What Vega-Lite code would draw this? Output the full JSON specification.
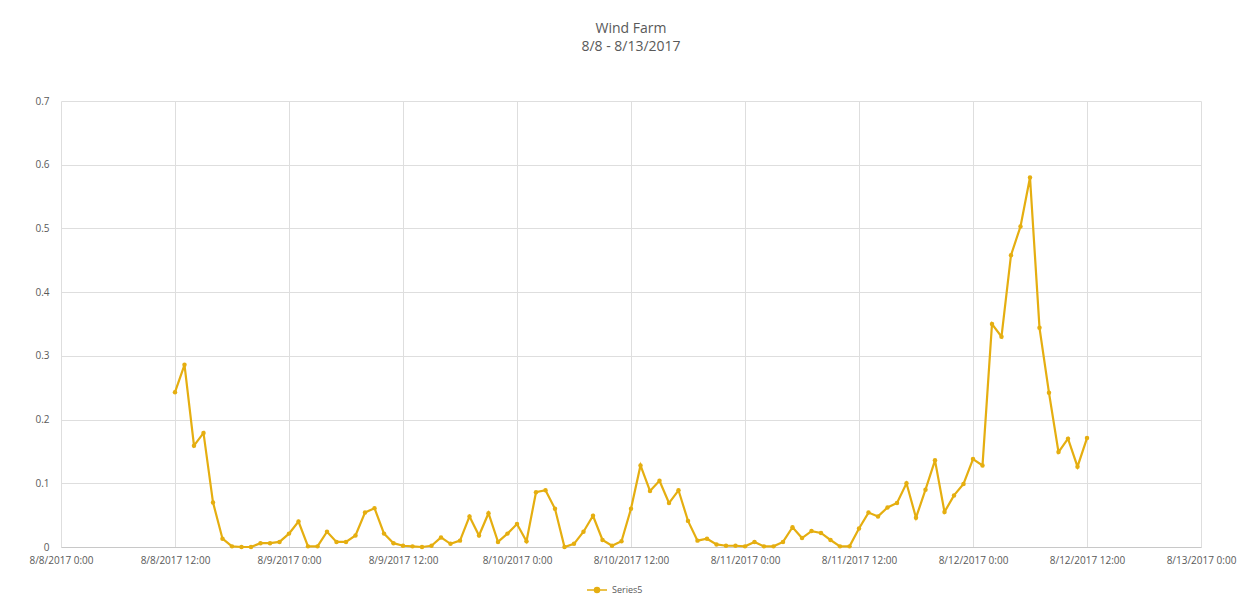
{
  "$schema": "https://vega.github.io/schema/vega-lite/v6.json",
  "autosize": {"type": "none"},
  "width": 1140,
  "height": 446,
  "padding": {"left": 61, "top": 101, "right": 50, "bottom": 53},
  "background": "white",
  "config": {
    "font": "Open Sans",
    "view": {"stroke": null}
  },
  "title": {
    "text": "Wind Farm",
    "subtitle": "8/8 - 8/13/2017",
    "anchor": "middle",
    "frame": "group",
    "fontSize": 14,
    "fontWeight": "normal",
    "color": "#595959",
    "subtitleFontSize": 14,
    "subtitleColor": "#595959",
    "subtitlePadding": 4,
    "offset": 42
  },
  "data": {
    "values": [
      {"time": "2017-08-08T12:00:00", "value": 0.243},
      {"time": "2017-08-08T13:00:00", "value": 0.286},
      {"time": "2017-08-08T14:00:00", "value": 0.159},
      {"time": "2017-08-08T15:00:00", "value": 0.179},
      {"time": "2017-08-08T16:00:00", "value": 0.070},
      {"time": "2017-08-08T17:00:00", "value": 0.013},
      {"time": "2017-08-08T18:00:00", "value": 0.001},
      {"time": "2017-08-08T19:00:00", "value": 0.000},
      {"time": "2017-08-08T20:00:00", "value": 0.000},
      {"time": "2017-08-08T21:00:00", "value": 0.006},
      {"time": "2017-08-08T22:00:00", "value": 0.006},
      {"time": "2017-08-08T23:00:00", "value": 0.008},
      {"time": "2017-08-09T00:00:00", "value": 0.021},
      {"time": "2017-08-09T01:00:00", "value": 0.040},
      {"time": "2017-08-09T02:00:00", "value": 0.001},
      {"time": "2017-08-09T03:00:00", "value": 0.001},
      {"time": "2017-08-09T04:00:00", "value": 0.024},
      {"time": "2017-08-09T05:00:00", "value": 0.008},
      {"time": "2017-08-09T06:00:00", "value": 0.008},
      {"time": "2017-08-09T07:00:00", "value": 0.018},
      {"time": "2017-08-09T08:00:00", "value": 0.054},
      {"time": "2017-08-09T09:00:00", "value": 0.061},
      {"time": "2017-08-09T10:00:00", "value": 0.021},
      {"time": "2017-08-09T11:00:00", "value": 0.006},
      {"time": "2017-08-09T12:00:00", "value": 0.002},
      {"time": "2017-08-09T13:00:00", "value": 0.001},
      {"time": "2017-08-09T14:00:00", "value": 0.000},
      {"time": "2017-08-09T15:00:00", "value": 0.002},
      {"time": "2017-08-09T16:00:00", "value": 0.015},
      {"time": "2017-08-09T17:00:00", "value": 0.005},
      {"time": "2017-08-09T18:00:00", "value": 0.010},
      {"time": "2017-08-09T19:00:00", "value": 0.048},
      {"time": "2017-08-09T20:00:00", "value": 0.018},
      {"time": "2017-08-09T21:00:00", "value": 0.053},
      {"time": "2017-08-09T22:00:00", "value": 0.008},
      {"time": "2017-08-09T23:00:00", "value": 0.021},
      {"time": "2017-08-10T00:00:00", "value": 0.036},
      {"time": "2017-08-10T01:00:00", "value": 0.009},
      {"time": "2017-08-10T02:00:00", "value": 0.086},
      {"time": "2017-08-10T03:00:00", "value": 0.089},
      {"time": "2017-08-10T04:00:00", "value": 0.060},
      {"time": "2017-08-10T05:00:00", "value": 0.000},
      {"time": "2017-08-10T06:00:00", "value": 0.005},
      {"time": "2017-08-10T07:00:00", "value": 0.024},
      {"time": "2017-08-10T08:00:00", "value": 0.049},
      {"time": "2017-08-10T09:00:00", "value": 0.011},
      {"time": "2017-08-10T10:00:00", "value": 0.002},
      {"time": "2017-08-10T11:00:00", "value": 0.009},
      {"time": "2017-08-10T12:00:00", "value": 0.060},
      {"time": "2017-08-10T13:00:00", "value": 0.128},
      {"time": "2017-08-10T14:00:00", "value": 0.088},
      {"time": "2017-08-10T15:00:00", "value": 0.104},
      {"time": "2017-08-10T16:00:00", "value": 0.069},
      {"time": "2017-08-10T17:00:00", "value": 0.089},
      {"time": "2017-08-10T18:00:00", "value": 0.041},
      {"time": "2017-08-10T19:00:00", "value": 0.010},
      {"time": "2017-08-10T20:00:00", "value": 0.013},
      {"time": "2017-08-10T21:00:00", "value": 0.004},
      {"time": "2017-08-10T22:00:00", "value": 0.002},
      {"time": "2017-08-10T23:00:00", "value": 0.002},
      {"time": "2017-08-11T00:00:00", "value": 0.001},
      {"time": "2017-08-11T01:00:00", "value": 0.008},
      {"time": "2017-08-11T02:00:00", "value": 0.001},
      {"time": "2017-08-11T03:00:00", "value": 0.001},
      {"time": "2017-08-11T04:00:00", "value": 0.008},
      {"time": "2017-08-11T05:00:00", "value": 0.031},
      {"time": "2017-08-11T06:00:00", "value": 0.014},
      {"time": "2017-08-11T07:00:00", "value": 0.025},
      {"time": "2017-08-11T08:00:00", "value": 0.022},
      {"time": "2017-08-11T09:00:00", "value": 0.011},
      {"time": "2017-08-11T10:00:00", "value": 0.001},
      {"time": "2017-08-11T11:00:00", "value": 0.001},
      {"time": "2017-08-11T12:00:00", "value": 0.029},
      {"time": "2017-08-11T13:00:00", "value": 0.054},
      {"time": "2017-08-11T14:00:00", "value": 0.048},
      {"time": "2017-08-11T15:00:00", "value": 0.062},
      {"time": "2017-08-11T16:00:00", "value": 0.069},
      {"time": "2017-08-11T17:00:00", "value": 0.100},
      {"time": "2017-08-11T18:00:00", "value": 0.046},
      {"time": "2017-08-11T19:00:00", "value": 0.090},
      {"time": "2017-08-11T20:00:00", "value": 0.136},
      {"time": "2017-08-11T21:00:00", "value": 0.055},
      {"time": "2017-08-11T22:00:00", "value": 0.081},
      {"time": "2017-08-11T23:00:00", "value": 0.099},
      {"time": "2017-08-12T00:00:00", "value": 0.138},
      {"time": "2017-08-12T01:00:00", "value": 0.128},
      {"time": "2017-08-12T02:00:00", "value": 0.350},
      {"time": "2017-08-12T03:00:00", "value": 0.330},
      {"time": "2017-08-12T04:00:00", "value": 0.458},
      {"time": "2017-08-12T05:00:00", "value": 0.503},
      {"time": "2017-08-12T06:00:00", "value": 0.580},
      {"time": "2017-08-12T07:00:00", "value": 0.344},
      {"time": "2017-08-12T08:00:00", "value": 0.242},
      {"time": "2017-08-12T09:00:00", "value": 0.149},
      {"time": "2017-08-12T10:00:00", "value": 0.170},
      {"time": "2017-08-12T11:00:00", "value": 0.126},
      {"time": "2017-08-12T12:00:00", "value": 0.171}
    ]
  },
  "mark": {
    "type": "line",
    "strokeWidth": 2.2,
    "point": {"filled": true, "size": 20}
  },
  "encoding": {
    "x": {
      "field": "time",
      "type": "temporal",
      "title": null,
      "scale": {"domain": [{"year": 2017, "month": 8, "date": 8, "hours": 0}, {"year": 2017, "month": 8, "date": 13, "hours": 0}]},
      "axis": {
        "values": [
          {"year": 2017, "month": 8, "date": 8, "hours": 0},
          {"year": 2017, "month": 8, "date": 8, "hours": 12},
          {"year": 2017, "month": 8, "date": 9, "hours": 0},
          {"year": 2017, "month": 8, "date": 9, "hours": 12},
          {"year": 2017, "month": 8, "date": 10, "hours": 0},
          {"year": 2017, "month": 8, "date": 10, "hours": 12},
          {"year": 2017, "month": 8, "date": 11, "hours": 0},
          {"year": 2017, "month": 8, "date": 11, "hours": 12},
          {"year": 2017, "month": 8, "date": 12, "hours": 0},
          {"year": 2017, "month": 8, "date": 12, "hours": 12},
          {"year": 2017, "month": 8, "date": 13, "hours": 0}
        ],
        "format": "%-m/%-d/%Y %-H:%M",
        "labelFontSize": 10,
        "labelColor": "#595959",
        "labelPadding": 8,
        "labelFlush": false,
        "labelOverlap": false,
        "ticks": false,
        "domainColor": "#c8c8c8",
        "grid": true,
        "gridColor": "#dedede"
      }
    },
    "y": {
      "field": "value",
      "type": "quantitative",
      "title": null,
      "scale": {"domain": [0, 0.7], "nice": false},
      "axis": {
        "values": [0, 0.1, 0.2, 0.3, 0.4, 0.5, 0.6, 0.7],
        "format": ".1~f",
        "labelFontSize": 10,
        "labelColor": "#595959",
        "labelPadding": 12,
        "ticks": false,
        "domain": false,
        "grid": true,
        "gridColor": "#dedede"
      }
    },
    "color": {
      "datum": "Series5",
      "type": "nominal",
      "scale": {"range": ["#E5AE10"]},
      "legend": {
        "title": null,
        "orient": "none",
        "legendX": 525,
        "legendY": 478,
        "labelFontSize": 9,
        "labelColor": "#595959",
        "symbolType": "M -1 0 L -0.25 0 M 0.25 0 L 1 0 M -0.25 0 A 0.25 0.25 0 1 1 0.25 0 A 0.25 0.25 0 1 1 -0.25 0",
        "symbolSize": 400,
        "symbolStrokeWidth": 1.5,
        "symbolFillColor": "#E5AE10",
        "symbolStrokeColor": "#E5AE10"
      }
    }
  }
}
